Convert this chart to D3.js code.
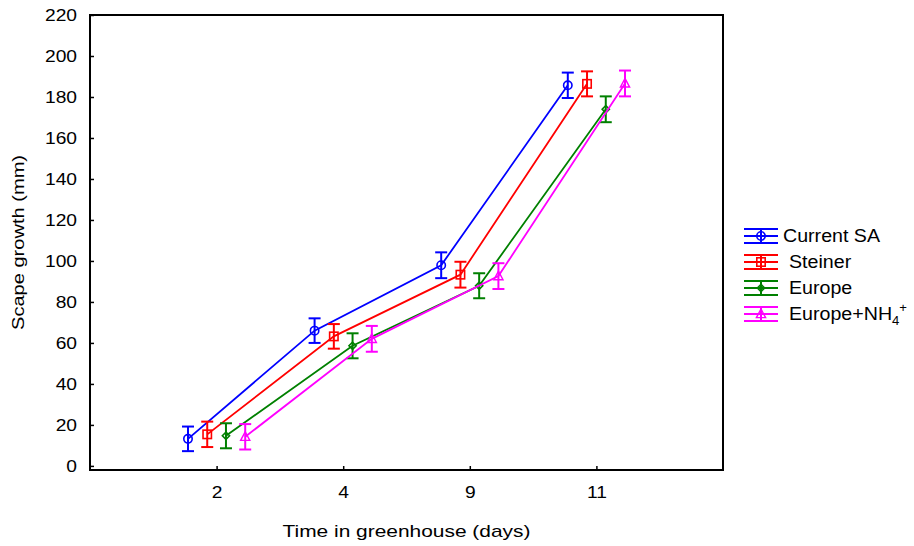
<!DOCTYPE html>
<html>
<head>
<meta charset="utf-8">
<script src="https://cdn.jsdelivr.net/npm/d3@7"></script>
<style>
  html, body { margin: 0; padding: 0; background: #fff; }
  svg { display: block; }
  text { font-family: "Liberation Sans", Arial, sans-serif; fill: #000; }
</style>
</head>
<body>
<svg id="chart" width="914" height="546"></svg>
<script>
// Sampling days (categorical x axis)
const days = ["2", "4", "9", "11"];

// Treatments
const seriesNames = ["Current SA", "Steiner", "Europe", "Europe+NH4+"];

// Mean scape growth (mm) per day, and the error-bar half width
const currentSA      = [13.2, 66.0, 97.9, 185.7];
const currentSAErr   = [6.0, 6.0, 6.3, 6.2];
const steiner        = [15.4, 63.2, 93.3, 186.4];
const steinerErr     = [6.2, 6.0, 6.3, 6.1];
const europe         = [14.7, 58.6, 87.9, 174.0];
const europeErr      = [6.1, 6.1, 6.1, 6.3];
const europeNH4      = [14.2, 62.0, 92.6, 186.6];
const europeNH4Err   = [6.2, 6.3, 6.3, 6.3];

const yTicks = [0, 20, 40, 60, 80, 100, 120, 140, 160, 180, 200, 220];

const colors = ["#0000ff", "#ff0000", "#008000", "#ff00ff"];
const symbols = ["circle", "square", "diamond", "triangle"];
// horizontal dodge of each treatment around its day
const dodge = [-0.226, -0.074, 0.074, 0.226];

const series = [
  { name: seriesNames[0], values: currentSA, err: currentSAErr },
  { name: seriesNames[1], values: steiner,   err: steinerErr },
  { name: seriesNames[2], values: europe,    err: europeErr },
  { name: seriesNames[3], values: europeNH4, err: europeNH4Err }
];

const svg = d3.select("#chart");
const plot = { left: 90, right: 723, top: 15, bottom: 470 };

const x = d3.scaleLinear().domain([0, days.length + 1]).range([plot.left, plot.right]);
const y = d3.scaleLinear().domain([-2, 220]).range([plot.bottom, plot.top]);

// widen glyphs horizontally (the chart's lettering is drawn stretched)
function stretch(sel, k) {
  sel.each(function () {
    const L = this.getComputedTextLength();
    d3.select(this).attr("textLength", L * k).attr("lengthAdjust", "spacingAndGlyphs");
  });
}

// Axes with inward ticks
const yAxis = svg.append("g")
  .attr("transform", `translate(${plot.left},0)`)
  .call(d3.axisLeft(y).tickValues(yTicks).tickSize(-4).tickPadding(13));
const xAxis = svg.append("g")
  .attr("transform", `translate(0,${plot.bottom})`)
  .call(d3.axisBottom(x).tickValues(d3.range(1, days.length + 1))
    .tickFormat(i => days[i - 1]).tickSize(-4).tickPadding(17));

[yAxis, xAxis].forEach(g => {
  g.select(".domain").remove();
  g.selectAll(".tick line").attr("stroke", "#000").attr("stroke-width", 1.5);
  g.selectAll(".tick text").attr("font-size", 16).attr("font-family", null);
});
stretch(yAxis.selectAll(".tick text"), 1.2);
stretch(xAxis.selectAll(".tick text"), 1.2);

// Frame
svg.append("rect")
  .attr("x", plot.left).attr("y", plot.top)
  .attr("width", plot.right - plot.left).attr("height", plot.bottom - plot.top)
  .attr("fill", "none").attr("stroke", "#000").attr("stroke-width", 2);

// Axis titles
const xTitle = svg.append("text")
  .attr("x", (plot.left + plot.right) / 2).attr("y", 537)
  .attr("text-anchor", "middle").attr("font-size", 17)
  .text("Time in greenhouse (days)");
stretch(xTitle, 1.23);

const yTitle = svg.append("text")
  .attr("transform", `translate(18,${(plot.top + plot.bottom) / 2}) rotate(-90)`)
  .attr("dy", "0.35em")
  .attr("text-anchor", "middle").attr("font-size", 17)
  .text("Scape growth (mm)");
stretch(yTitle, 1.18);

// Marker shapes
function marker(g, type, color) {
  if (type === "circle") {
    g.append("circle").attr("r", 4.2)
      .attr("fill", "none").attr("stroke", color).attr("stroke-width", 1.6);
  } else if (type === "square") {
    g.append("rect").attr("x", -4.2).attr("y", -4.2).attr("width", 8.4).attr("height", 8.4)
      .attr("fill", "none").attr("stroke", color).attr("stroke-width", 1.6);
  } else if (type === "diamond") {
    g.append("path").attr("d", "M0,-3.6L3.6,0L0,3.6L-3.6,0Z")
      .attr("fill", "none").attr("stroke", color).attr("stroke-width", 1.6);
  } else {
    g.append("path").attr("d", "M0,-5L4.6,3.6L-4.6,3.6Z")
      .attr("fill", "none").attr("stroke", color).attr("stroke-width", 1.4);
  }
}

const line = d3.line().x(d => x(d.i + 1 + d.off)).y(d => y(d.v));

series.forEach((s, k) => {
  const pts = s.values.map((v, i) => ({ i, v, e: s.err[i], off: dodge[k] }));
  const g = svg.append("g");
  g.append("path").datum(pts).attr("d", line)
    .attr("fill", "none").attr("stroke", colors[k]).attr("stroke-width", 1.8);

  pts.forEach(p => {
    const cx = x(p.i + 1 + p.off);
    const eb = g.append("g").attr("stroke", colors[k]).attr("stroke-width", 2);
    eb.append("line").attr("x1", cx).attr("x2", cx).attr("y1", y(p.v + p.e)).attr("y2", y(p.v - p.e));
    eb.append("line").attr("x1", cx - 6).attr("x2", cx + 6).attr("y1", y(p.v + p.e)).attr("y2", y(p.v + p.e));
    eb.append("line").attr("x1", cx - 6).attr("x2", cx + 6).attr("y1", y(p.v - p.e)).attr("y2", y(p.v - p.e));
    marker(g.append("g").attr("transform", `translate(${cx},${y(p.v)})`), symbols[k], colors[k]);
  });
});

// Legend
const legend = svg.append("g").attr("transform", "translate(744,236)");
series.forEach((s, k) => {
  const row = legend.append("g").attr("transform", `translate(0,${k * 26})`);
  const c = colors[k];
  const sym = row.append("g").attr("stroke", c).attr("stroke-width", 2);
  [-7, 0, 7].forEach(dy => sym.append("line").attr("x1", 0).attr("x2", 34).attr("y1", dy).attr("y2", dy));
  sym.append("line").attr("x1", 17).attr("x2", 17).attr("y1", -7).attr("y2", 7);
  marker(row.append("g").attr("transform", "translate(17,0)"), symbols[k], c);

  const t = row.append("text").attr("x", k === 0 ? 39 : 45).attr("dy", "0.35em").attr("font-size", 18);
  if (k === 3) {
    t.append("tspan").text("Europe+NH");
    t.append("tspan").attr("font-size", 12).attr("dy", 5).text("4");
    t.append("tspan").attr("font-size", 12).attr("dy", -13).text("+");
  } else {
    t.text(s.name);
  }
  stretch(t, 1.09);
});
</script>
</body>
</html>
